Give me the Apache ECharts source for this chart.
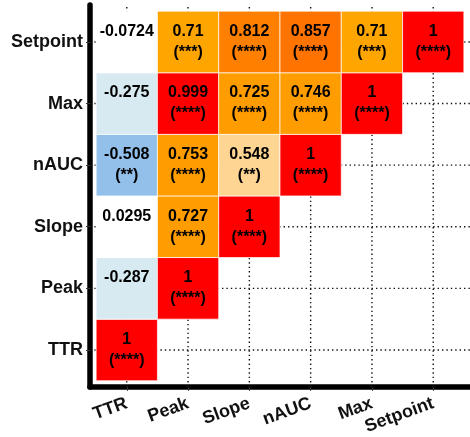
<!DOCTYPE html>
<html>
<head>
<meta charset="utf-8">
<script src="https://cdn.jsdelivr.net/npm/echarts@6/dist/echarts.min.js"></script>
<style>html,body{margin:0;padding:0;background:#fff;}#c{width:470px;height:437px;}</style>
</head>
<body>
<div id="c"></div>
<script>
const categories = ['TTR', 'Peak', 'Slope', 'nAUC', 'Max', 'Setpoint'];
// rows (y) listed by category; values across x categories (only lower triangle present)
const valSetpoint = [-0.0724, 0.71, 0.812, 0.857, 0.71, 1];
const sigSetpoint = ['', '***', '****', '****', '***', '****'];
const valMax = [-0.275, 0.999, 0.725, 0.746, 1];
const sigMax = ['', '****', '****', '****', '****'];
const valNAUC = [-0.508, 0.753, 0.548, 1];
const sigNAUC = ['**', '****', '**', '****'];
const valSlope = [0.0295, 0.727, 1];
const sigSlope = ['', '****', '****'];
const valPeak = [-0.287, 1];
const sigPeak = ['', '****'];
const valTTR = [1];
const sigTTR = ['****'];

const rows = [
  ['TTR', valTTR, sigTTR],
  ['Peak', valPeak, sigPeak],
  ['Slope', valSlope, sigSlope],
  ['nAUC', valNAUC, sigNAUC],
  ['Max', valMax, sigMax],
  ['Setpoint', valSetpoint, sigSetpoint]
];
const cells = [];
rows.forEach(([name, vals, sigs]) => {
  const yi = categories.indexOf(name);
  vals.forEach((v, xi) => cells.push([xi, yi, v, sigs[xi]]));
});
const idx = categories.map((_, i) => i);

const FONT = '"Liberation Sans", Arial, sans-serif';
const chart = echarts.init(document.getElementById('c'), null, {renderer: 'canvas'});
chart.setOption({
  backgroundColor: '#fff',
  animation: false,
  grid: {left: 90, top: 5, width: 384, height: 384},
  xAxis: {
    type: 'value', min: -0.6, max: 5.6,
    splitLine: {show: false},
    axisLine: {show: true, onZero: false, lineStyle: {color: '#000', width: 5.5}},
    axisTick: {show: true, customValues: idx, length: 4, lineStyle: {color: '#333', width: 1}},
    axisLabel: {
      customValues: idx, rotate: 20, margin: 16,
      formatter: v => categories[Math.round(v)],
      color: '#111', fontFamily: FONT, fontWeight: 'bold', fontSize: 18
    }
  },
  yAxis: {
    type: 'value', min: -0.6, max: 5.6,
    splitLine: {show: false},
    axisLine: {show: true, onZero: false, lineStyle: {color: '#000', width: 5.5}},
    axisTick: {show: true, customValues: idx, length: 4, lineStyle: {color: '#333', width: 1}},
    axisLabel: {
      customValues: idx, margin: 7,
      formatter: v => categories[Math.round(v)],
      color: '#111', fontFamily: FONT, fontWeight: 'bold', fontSize: 18
    }
  },
  visualMap: {
    show: false, type: 'piecewise', seriesIndex: 1, dimension: 2,
    pieces: [
      {lt: -0.4, color: '#92c0ea'},
      {gte: -0.4, lt: -0.1, color: '#d7eaf1'},
      {gte: -0.1, lt: 0.4, color: '#ffffff'},
      {gte: 0.4, lt: 0.65, color: '#fed592'},
      {gte: 0.65, lt: 0.72, color: '#ffa500'},
      {gte: 0.72, lt: 0.78, color: '#ff9c00'},
      {gte: 0.78, lt: 0.83, color: '#ff8000'},
      {gte: 0.83, lt: 0.9, color: '#ff7300'},
      {gte: 0.9, color: '#ff0000'}
    ]
  },
  series: [
    {
      type: 'custom', z: 1, silent: true, clip: false,
      data: idx,
      renderItem: (params, api) => {
        const i = api.value(0);
        const a = api.coord([i, -0.6]), b = api.coord([i, 5.6]);
        const c = api.coord([-0.6, i]), d = api.coord([5.6, i]);
        const st = {stroke: '#111', lineWidth: 1.4, lineDash: [1.4, 3]};
        return {type: 'group', children: [
          {type: 'line', shape: {x1: a[0], y1: a[1], x2: b[0], y2: b[1]}, style: st},
          {type: 'line', shape: {x1: c[0], y1: c[1], x2: d[0], y2: d[1]}, style: st}
        ]};
      }
    },
    {
      type: 'custom', z: 2, clip: false,
      data: cells,
      renderItem: (params, api) => {
        const c = api.coord([api.value(0), api.value(1)]);
        const s = api.size([1, 1]);
        const v = api.value(2);
        const sig = cells[params.dataIndex][3];
        return {
          type: 'rect',
          shape: {x: c[0] - s[0] / 2, y: c[1] - s[1] / 2, width: s[0], height: s[1]},
          style: {fill: api.visual('color'), stroke: 'rgba(255,255,255,0.7)', lineWidth: 1},
          textContent: {
            style: {
              text: String(v) + '\n' + (sig ? '(' + sig + ')' : ' '),
              fill: '#000', fontFamily: FONT, fontWeight: 'bold', fontSize: 16,
              lineHeight: 21, align: 'center', verticalAlign: 'middle'
            }
          },
          textConfig: {position: 'inside'}
        };
      }
    }
  ]
});
</script>
</body>
</html>
